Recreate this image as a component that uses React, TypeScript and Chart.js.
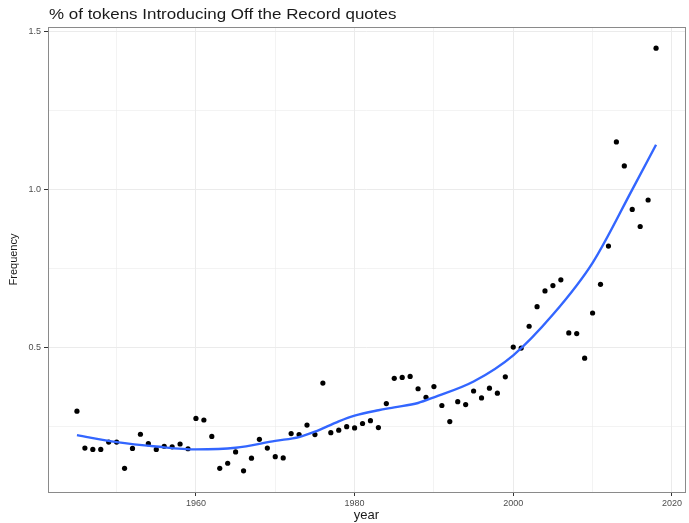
import React, { useEffect, useRef } from "react";
import { Chart, registerables } from "chart.js";

Chart.register(...registerables);

const chartTitle = "% of tokens Introducing Off the Record quotes";
const xAxisTitle = "year";
const yAxisTitle = "Frequency";

const years = [
  1945, 1946, 1947, 1948, 1949, 1950, 1951, 1952, 1953, 1954, 1955, 1956, 1957, 1958, 1959,
  1960, 1961, 1962, 1963, 1964, 1965, 1966, 1967, 1968, 1969, 1970, 1971, 1972, 1973, 1974,
  1975, 1976, 1977, 1978, 1979, 1980, 1981, 1982, 1983, 1984, 1985, 1986, 1987, 1988, 1989,
  1990, 1991, 1992, 1993, 1994, 1995, 1996, 1997, 1998, 1999, 2000, 2001, 2002, 2003, 2004,
  2005, 2006, 2007, 2008, 2009, 2010, 2011, 2012, 2013, 2014, 2015, 2016, 2017, 2018,
];

const frequency = [
  0.298, 0.181, 0.177, 0.177, 0.2, 0.2, 0.117, 0.18, 0.225, 0.195, 0.177, 0.187, 0.185, 0.194, 0.179,
  0.275, 0.27, 0.218, 0.117, 0.133, 0.169, 0.109, 0.149, 0.209, 0.181, 0.154, 0.15, 0.227, 0.224, 0.254,
  0.224, 0.387, 0.23, 0.238, 0.249, 0.245, 0.259, 0.268, 0.246, 0.322, 0.402, 0.405, 0.408, 0.369, 0.342,
  0.376, 0.316, 0.265, 0.328, 0.319, 0.362, 0.34, 0.371, 0.355, 0.407, 0.501, 0.498, 0.567, 0.629, 0.679,
  0.696, 0.714, 0.546, 0.544, 0.466, 0.609, 0.7, 0.821, 1.151, 1.075, 0.937, 0.883, 0.967, 1.448,
];

const smoothYears = [1945, 1950, 1955, 1960, 1965, 1970, 1973, 1975, 1978, 1980, 1983, 1985, 1988, 1990, 1995, 2000, 2005, 2010, 2015, 2018];
const smoothValues = [0.222, 0.2, 0.186, 0.177, 0.182, 0.204, 0.216, 0.233, 0.266, 0.284, 0.301, 0.31, 0.324, 0.342, 0.392, 0.475, 0.604, 0.768, 1.0, 1.142];

const xMajorTicks = [1960, 1980, 2000, 2020];
const xMinorTicks = [1950, 1970, 1990, 2010];
const yMajorTicks = [0.5, 1.0, 1.5];
const yMinorTicks = [0.25, 0.75, 1.25];

const xLimits = [1941.35, 2021.65];
const yLimits = [0.042, 1.515];

const FONT = "'Liberation Sans', Arial, sans-serif";

export default function App() {
  const canvasRef = useRef<HTMLCanvasElement | null>(null);

  useEffect(() => {
    const canvas = canvasRef.current;
    if (!canvas) return;

    const xTicksAll = [...xMajorTicks, ...xMinorTicks].sort((a, b) => a - b);
    const yTicksAll = [...yMajorTicks, ...yMinorTicks].sort((a, b) => a - b);
    const isMajorX = (v: number) => xMajorTicks.includes(v);
    const isMajorY = (v: number) => yMajorTicks.some((m) => Math.abs(m - v) < 1e-9);

    const framePlugin = {
      id: "frame",
      afterDraw(chart: any) {
        const { ctx, chartArea } = chart;
        ctx.save();
        ctx.strokeStyle = "#8a8a8a";
        ctx.lineWidth = 1;
        ctx.strokeRect(
          Math.round(chartArea.left) + 0.5,
          Math.round(chartArea.top) + 0.5,
          Math.round(chartArea.right - chartArea.left),
          Math.round(chartArea.bottom - chartArea.top)
        );
        ctx.restore();
        ctx.save();
        ctx.fillStyle = "#1a1a1a";
        ctx.font = `15px ${FONT}`;
        ctx.textBaseline = "alphabetic";
        ctx.textAlign = "left";
        ctx.translate(49, 19);
        ctx.scale(1.13, 1);
        ctx.fillText(chartTitle, 0, 0);
        ctx.restore();
      },
    };

    const chart = new Chart(canvas, {
      type: "scatter",
      data: {
        datasets: [
          {
            type: "line",
            label: "smooth",
            data: smoothYears.map((x, i) => ({ x, y: smoothValues[i] })),
            borderColor: "#3366FF",
            borderWidth: 2.4,
            pointRadius: 0,
            fill: false,
            cubicInterpolationMode: "monotone",
            order: 0,
          } as any,
          {
            type: "scatter",
            label: "frequency",
            data: years.map((x, i) => ({ x, y: frequency[i] })),
            backgroundColor: "#000000",
            borderWidth: 0,
            pointRadius: 2.6,
            order: 1,
          },
        ],
      },
      options: {
        animation: false,
        responsive: true,
        maintainAspectRatio: false,
        events: [],
        layout: { padding: { top: 27, right: 3, left: 0, bottom: 0 } },
        plugins: {
          legend: { display: false },
          tooltip: { enabled: false },
          title: { display: false },
        },
        scales: {
          x: {
            type: "linear",
            min: xLimits[0],
            max: xLimits[1],
            afterBuildTicks: (scale: any) => {
              scale.ticks = xTicksAll.map((v) => ({ value: v }));
            },
            afterFit: (scale: any) => {
              scale.height = 31;
            },
            border: { display: false },
            grid: {
              color: "#ebebeb",
              lineWidth: (ctx: any) => (isMajorX(ctx.tick?.value) ? 1 : 0.6),
              tickColor: (ctx: any) => (isMajorX(ctx.tick?.value) ? "#333333" : "rgba(0,0,0,0)"),
              tickLength: 4,
              drawTicks: true,
            },
            ticks: {
              padding: 2,
              color: "#4d4d4d",
              font: { family: FONT, size: 9 },
              maxRotation: 0,
              autoSkip: false,
              callback: (v: any) => (isMajorX(Number(v)) ? String(v) : ""),
            },
            title: {
              display: true,
              text: xAxisTitle,
              color: "#1a1a1a",
              font: { family: FONT, size: 13 },
              padding: { top: 0, bottom: 0 },
            },
          },
          y: {
            type: "linear",
            min: yLimits[0],
            max: yLimits[1],
            afterBuildTicks: (scale: any) => {
              scale.ticks = yTicksAll.map((v) => ({ value: v }));
            },
            afterFit: (scale: any) => {
              scale.width = 48;
            },
            border: { display: false },
            grid: {
              color: "#ebebeb",
              lineWidth: (ctx: any) => (isMajorY(ctx.tick?.value) ? 1 : 0.6),
              tickColor: (ctx: any) => (isMajorY(ctx.tick?.value) ? "#333333" : "rgba(0,0,0,0)"),
              tickLength: 4,
              drawTicks: true,
            },
            ticks: {
              padding: 3,
              color: "#4d4d4d",
              font: { family: FONT, size: 9 },
              autoSkip: false,
              callback: (v: any) => (isMajorY(Number(v)) ? Number(v).toFixed(1) : ""),
            },
            title: {
              display: true,
              text: yAxisTitle,
              color: "#1a1a1a",
              font: { family: FONT, size: 11 },
              padding: { top: 7, bottom: 0 },
            },
          },
        },
      },
      plugins: [framePlugin],
    } as any);

    return () => {
      chart.destroy();
    };
  }, []);

  return (
    <div style={{ position: "fixed", left: 0, top: 0, width: 689, height: 523, background: "#ffffff" }}>
      <canvas ref={canvasRef} />
    </div>
  );
}
